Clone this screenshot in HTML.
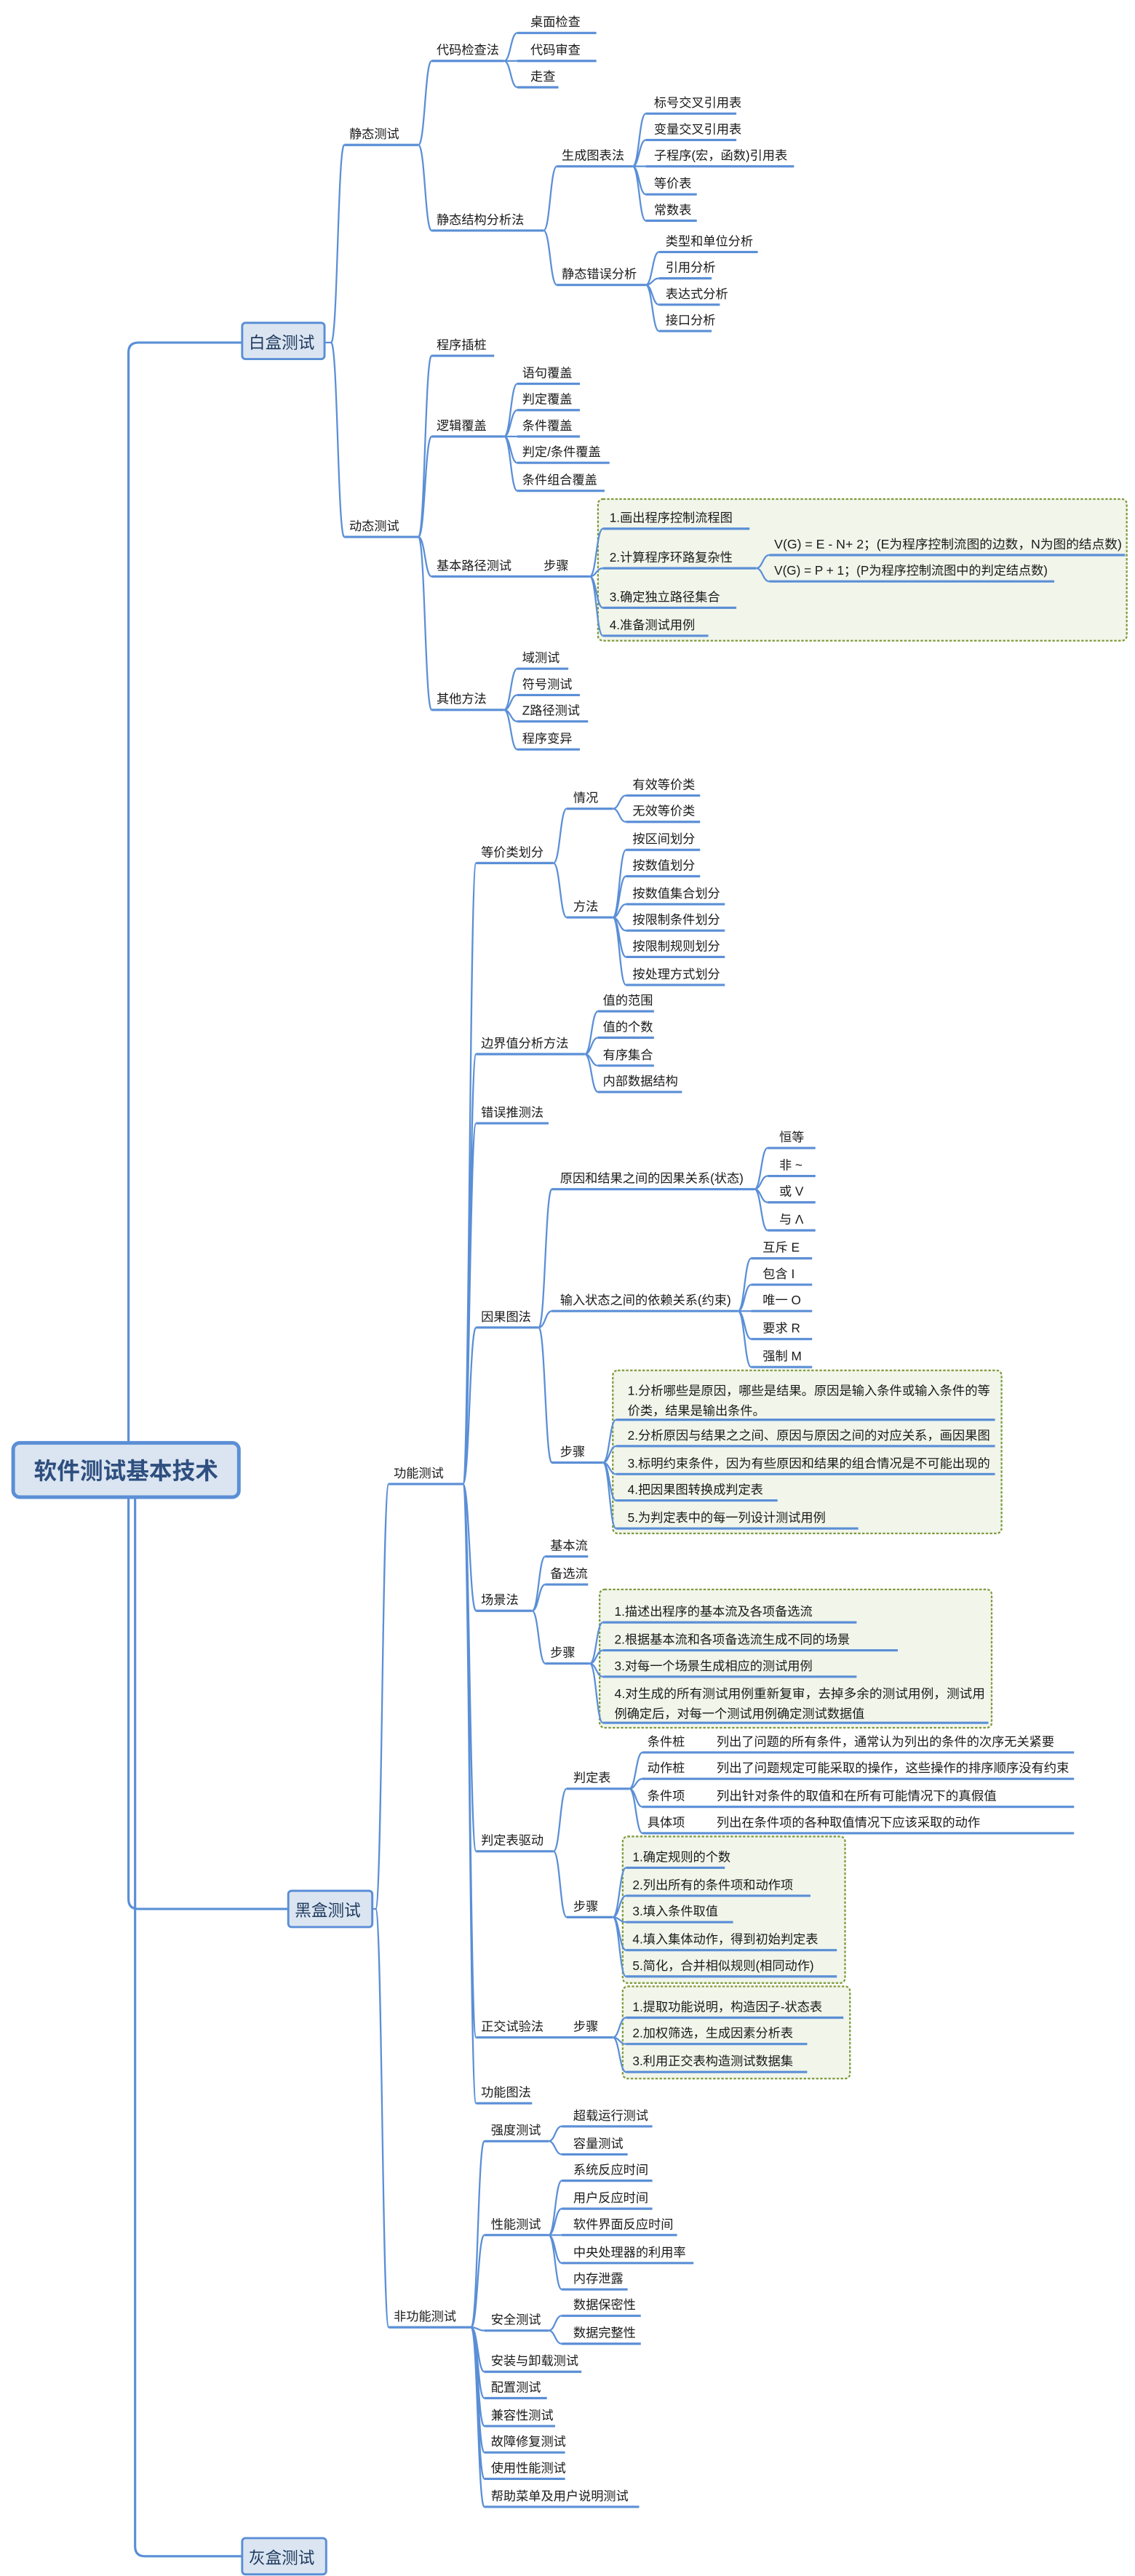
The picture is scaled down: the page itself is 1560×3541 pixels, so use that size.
<!DOCTYPE html>
<html><head><meta charset="utf-8"><style>
html,body{margin:0;padding:0;background:#fff;}
svg{display:block;}
text{font-family:"Liberation Sans","Noto Sans CJK SC",sans-serif;font-size:7.6px;fill:#1a1a1a;}
.u,.c{stroke:#5b8fd6;stroke-width:1.4;fill:none;}
.c{stroke-width:1;}
.g{fill:#f1f5ea;stroke:#7f9a3c;stroke-width:1;stroke-dasharray:1.5 1;}
.bx{fill:#dbe5f1;stroke:#5b8fd6;stroke-width:1.3;}
.t{font-size:10px;fill:#1f3a5f;}
</style></head><body>
<svg width="1560" height="3541" viewBox="0 0 689 1564" preserveAspectRatio="none" xmlns="http://www.w3.org/2000/svg">
<!-- root connectors -->
<path class="u" d="M78 876 V214 Q78 208 84 208 H147"/>
<path class="u" d="M78 909 V1153 Q78 1159 84 1159 H175"/>
<path class="u" d="M82 909 V1546 Q82 1552 88 1552 H147"/>
<rect x="8" y="876" width="137" height="33" rx="4" fill="#dbe5f1" stroke="#5b8fd6" stroke-width="2.2"/>
<text x="76.5" y="898" text-anchor="middle" style="font-size:14px;font-weight:bold;fill:#2e4f7f">软件测试基本技术</text>
<rect class="bx" x="147" y="196" width="50" height="22" rx="2"/><text class="t" x="151" y="211.5">白盒测试</text>
<rect class="bx" x="175" y="1148" width="51" height="22" rx="2"/><text class="t" x="179" y="1163.5">黑盒测试</text>
<rect class="bx" x="147" y="1541" width="51" height="22" rx="2"/><text class="t" x="151" y="1556.5">灰盒测试</text>

<!-- green boxes -->
<rect class="g" x="363" y="303" width="321" height="86" rx="3"/>
<rect class="g" x="372" y="832" width="236" height="99" rx="3"/>
<rect class="g" x="364" y="965" width="238" height="84" rx="3"/>
<rect class="g" x="378" y="1115" width="135" height="89" rx="3"/>
<rect class="g" x="378" y="1206" width="138" height="56" rx="3"/>

<g class="c">
<!-- white box -->
<path d="M197 208 H201 C205 208 205 88 209 88 M201 208 C205 208 205 326 209 326"/>
<path d="M254 88 C258 88 258 37 262 37 M254 88 C258 88 258 140 262 140"/>
<path d="M306 37 C310 37 310 20 314 20 M306 37 H314 M306 37 C310 37 310 53 314 53"/>
<path d="M330 140 C334 140 334 101 338 101 M330 140 C334 140 334 173 338 173"/>
<path d="M384 101 C388 101 388 69 392 69 M384 101 C388 101 388 85 392 85 M384 101 H392 M384 101 C388 101 388 118 392 118 M384 101 C388 101 388 134 392 134"/>
<path d="M392 173 C396 173 396 153 400 153 M392 173 C396 173 396 169 400 169 M392 173 C396 173 396 185 400 185 M392 173 C396 173 396 201 400 201"/>
<path d="M254 326 C258 326 258 216 262 216 M254 326 C258 326 258 265 262 265 M254 326 C258 326 258 350 262 350 M254 326 C258 326 258 431 262 431"/>
<path d="M306 265 C310 265 310 233 314 233 M306 265 C310 265 310 249 314 249 M306 265 H314 M306 265 C310 265 310 281 314 281 M306 265 C310 265 310 298 314 298"/>
<path d="M358 350 C362 350 362 321 366 321 M358 350 C362 350 362 345 366 345 M358 350 C362 350 362 369 366 369 M358 350 C362 350 362 386 366 386"/>
<path d="M459 345 C463 345 463 337 467 337 M459 345 C463 345 463 353 467 353"/>
<path d="M306 431 C310 431 310 406 314 406 M306 431 C310 431 310 422 314 422 M306 431 C310 431 310 438 314 438 M306 431 C310 431 310 455 314 455"/>
<!-- black box -->
<path d="M226 1159 H228 C232 1159 232 901 236 901 M228 1159 C232 1159 232 1413 236 1413"/>
<path d="M281 901 C285 901 285 524 289 524 M281 901 C285 901 285 640 289 640 M281 901 C285 901 285 682 289 682 M281 901 C285 901 285 806 289 806 M281 901 C285 901 285 978 289 978 M281 901 C285 901 285 1124 289 1124 M281 901 C285 901 285 1237 289 1237 M281 901 C285 901 285 1277 289 1277"/>
<path d="M336 524 C340 524 340 491 344 491 M336 524 C340 524 340 557 344 557"/>
<path d="M372 491 C376 491 376 483 380 483 M372 491 C376 491 376 499 380 499"/>
<path d="M372 557 C376 557 376 516 380 516 M372 557 C376 557 376 532 380 532 M372 557 C376 557 376 549 380 549 M372 557 C376 557 376 565 380 565 M372 557 C376 557 376 581 380 581 M372 557 C376 557 376 598 380 598"/>
<path d="M355 640 C359 640 359 614 363 614 M355 640 C359 640 359 630 363 630 M355 640 C359 640 359 647 363 647 M355 640 C359 640 359 663 363 663"/>
<path d="M327 806 C331 806 331 722 335 722 M327 806 C331 806 331 796 335 796 M327 806 C331 806 331 888 335 888"/>
<path d="M458 722 C462 722 462 697 466 697 M458 722 C462 722 462 714 466 714 M458 722 C462 722 462 730 466 730 M458 722 C462 722 462 747 466 747"/>
<path d="M448 796 C452 796 452 764 456 764 M448 796 C452 796 452 780 456 780 M448 796 H456 M448 796 C452 796 452 813 456 813 M448 796 C452 796 452 830 456 830"/>
<path d="M366 888 C370 888 370 862 374 862 M366 888 C370 888 370 878 374 878 M366 888 C370 888 370 895 374 895 M366 888 C370 888 370 911 374 911 M366 888 C370 888 370 928 374 928"/>
<path d="M323 978 C327 978 327 945 331 945 M323 978 C327 978 327 962 331 962 M323 978 C327 978 327 1010 331 1010"/>
<path d="M358 1010 C362 1010 362 985 366 985 M358 1010 C362 1010 362 1002 366 1002 M358 1010 C362 1010 362 1018 366 1018 M358 1010 C362 1010 362 1046 366 1046"/>
<path d="M336 1124 C340 1124 340 1086 344 1086 M336 1124 C340 1124 340 1164 344 1164"/>
<path d="M382 1086 C386 1086 386 1064 390 1064 M382 1086 C386 1086 386 1080 390 1080 M382 1086 C386 1086 386 1097 390 1097 M382 1086 C386 1086 386 1113 390 1113"/>
<path d="M372 1164 C376 1164 376 1134 380 1134 M372 1164 C376 1164 376 1151 380 1151 M372 1164 C376 1164 376 1167 380 1167 M372 1164 C376 1164 376 1184 380 1184 M372 1164 C376 1164 376 1200 380 1200"/>
<path d="M372 1237 C376 1237 376 1225 380 1225 M372 1237 C376 1237 376 1241 380 1241 M372 1237 C376 1237 376 1258 380 1258"/>
<path d="M286 1413 C290 1413 290 1300 294 1300 M286 1413 C290 1413 290 1357 294 1357 M286 1413 C290 1413 290 1415 294 1415 M286 1413 C290 1413 290 1440 294 1440 M286 1413 C290 1413 290 1456 294 1456 M286 1413 C290 1413 290 1473 294 1473 M286 1413 C290 1413 290 1489 294 1489 M286 1413 C290 1413 290 1505 294 1505 M286 1413 C290 1413 290 1522 294 1522"/>
<path d="M333 1300 C337 1300 337 1291 341 1291 M333 1300 C337 1300 337 1308 341 1308"/>
<path d="M333 1357 C337 1357 337 1324 341 1324 M333 1357 C337 1357 337 1341 341 1341 M333 1357 H341 M333 1357 C337 1357 337 1374 341 1374 M333 1357 C337 1357 337 1390 341 1390"/>
<path d="M333 1415 C337 1415 337 1406 341 1406 M333 1415 C337 1415 337 1423 341 1423"/>
</g>

<!-- underlines -->
<path class="u" d="
M209 88H254 M262 37H306 M314 20H362 M314 37H362 M314 53H339
M262 140H330 M338 101H384 M392 69H447 M392 85H447 M392 101H482 M392 118H423 M392 134H423
M338 173H392 M400 153H460 M400 169H432 M400 185H437 M400 201H432
M209 326H254 M262 216H300 M262 265H306 M314 233H352 M314 249H352 M314 265H352 M314 281H370 M314 298H367
M262 350H358 M366 321H455 M366 345H459 M467 337H683 M467 353H640 M366 369H447 M366 386H430
M262 431H306 M314 406H345 M314 422H352 M314 438H357 M314 455H352
M236 901H281 M289 524H336 M344 491H372 M380 483H425 M380 499H425
M344 557H372 M380 516H425 M380 532H425 M380 549H440 M380 565H440 M380 581H440 M380 598H440
M289 640H355 M363 614H397 M363 630H397 M363 647H397 M363 663H414
M289 682H333 M289 806H327 M335 722H458 M466 697H495 M466 714H495 M466 730H495 M466 747H495
M335 796H448 M456 764H493 M456 780H493 M456 796H493 M456 813H493 M456 830H493
M335 888H366 M374 862H604 M374 878H604 M374 895H604 M374 911H472 M374 928H521
M289 978H323 M331 945H357 M331 962H357 M331 1010H358 M366 985H520 M366 1002H545 M366 1018H520 M366 1046H600
M289 1124H336 M344 1086H382 M390 1064H652 M390 1080H652 M390 1097H652 M390 1113H652
M344 1164H372 M380 1134H440 M380 1151H492 M380 1167H445 M380 1184H508 M380 1200H508
M289 1237H372 M380 1225H512 M380 1241H490 M380 1258H490 M289 1277H323
M236 1413H286 M294 1300H333 M341 1291H396 M341 1308H381
M294 1357H333 M341 1324H396 M341 1341H396 M341 1357H411 M341 1374H421 M341 1390H381
M294 1415H333 M341 1406H389 M341 1423H389
M294 1440H353 M294 1456H332 M294 1473H337 M294 1489H343 M294 1505H343 M294 1522H388"/>

<!-- labels -->
<g>
<text x="212" y="84">静态测试</text>
<text x="265" y="33">代码检查法</text>
<text x="322" y="16">桌面检查</text><text x="322" y="33">代码审查</text><text x="322" y="49">走查</text>
<text x="265" y="136">静态结构分析法</text>
<text x="341" y="97">生成图表法</text>
<text x="397" y="65">标号交叉引用表</text><text x="397" y="81">变量交叉引用表</text><text x="397" y="97">子程序(宏，函数)引用表</text><text x="397" y="114">等价表</text><text x="397" y="130">常数表</text>
<text x="341" y="169">静态错误分析</text>
<text x="404" y="149">类型和单位分析</text><text x="404" y="165">引用分析</text><text x="404" y="181">表达式分析</text><text x="404" y="197">接口分析</text>
<text x="212" y="322">动态测试</text>
<text x="265" y="212">程序插桩</text>
<text x="265" y="261">逻辑覆盖</text>
<text x="317" y="229">语句覆盖</text><text x="317" y="245">判定覆盖</text><text x="317" y="261">条件覆盖</text><text x="317" y="277">判定/条件覆盖</text><text x="317" y="294">条件组合覆盖</text>
<text x="265" y="346">基本路径测试</text><text x="330" y="346">步骤</text>
<text x="370" y="317">1.画出程序控制流程图</text>
<text x="370" y="341">2.计算程序环路复杂性</text>
<text x="470" y="333" textLength="211" lengthAdjust="spacingAndGlyphs">V(G) = E - N+ 2；(E为程序控制流图的边数，N为图的结点数)</text>
<text x="470" y="349" textLength="166" lengthAdjust="spacingAndGlyphs">V(G) = P + 1；(P为程序控制流图中的判定结点数)</text>
<text x="370" y="365">3.确定独立路径集合</text>
<text x="370" y="382">4.准备测试用例</text>
<text x="265" y="427">其他方法</text>
<text x="317" y="402">域测试</text><text x="317" y="418">符号测试</text><text x="317" y="434">Z路径测试</text><text x="317" y="451">程序变异</text>

<text x="239" y="897">功能测试</text>
<text x="292" y="520">等价类划分</text>
<text x="348" y="487">情况</text>
<text x="384" y="479">有效等价类</text><text x="384" y="495">无效等价类</text>
<text x="348" y="553">方法</text>
<text x="384" y="512">按区间划分</text><text x="384" y="528">按数值划分</text><text x="384" y="545">按数值集合划分</text><text x="384" y="561">按限制条件划分</text><text x="384" y="577">按限制规则划分</text><text x="384" y="594">按处理方式划分</text>
<text x="292" y="636">边界值分析方法</text>
<text x="366" y="610">值的范围</text><text x="366" y="626">值的个数</text><text x="366" y="643">有序集合</text><text x="366" y="659">内部数据结构</text>
<text x="292" y="678">错误推测法</text>
<text x="292" y="802">因果图法</text>
<text x="340" y="718">原因和结果之间的因果关系(状态)</text>
<text x="473" y="693">恒等</text><text x="473" y="710">非 ~</text><text x="473" y="726">或 V</text><text x="473" y="743">与 Λ</text>
<text x="340" y="792">输入状态之间的依赖关系(约束)</text>
<text x="463" y="760">互斥 E</text><text x="463" y="776">包含 I</text><text x="463" y="792">唯一 O</text><text x="463" y="809">要求 R</text><text x="463" y="826">强制 M</text>
<text x="340" y="884">步骤</text>
<text x="381" y="847" textLength="220" lengthAdjust="spacingAndGlyphs">1.分析哪些是原因，哪些是结果。原因是输入条件或输入条件的等</text>
<text x="381" y="859">价类，结果是输出条件。</text>
<text x="381" y="874" textLength="220" lengthAdjust="spacingAndGlyphs">2.分析原因与结果之之间、原因与原因之间的对应关系，画因果图</text>
<text x="381" y="891" textLength="220" lengthAdjust="spacingAndGlyphs">3.标明约束条件，因为有些原因和结果的组合情况是不可能出现的</text>
<text x="381" y="907">4.把因果图转换成判定表</text>
<text x="381" y="924">5.为判定表中的每一列设计测试用例</text>
<text x="292" y="974">场景法</text>
<text x="334" y="941">基本流</text><text x="334" y="958">备选流</text><text x="334" y="1006">步骤</text>
<text x="373" y="981">1.描述出程序的基本流及各项备选流</text>
<text x="373" y="998">2.根据基本流和各项备选流生成不同的场景</text>
<text x="373" y="1014">3.对每一个场景生成相应的测试用例</text>
<text x="373" y="1031" textLength="225" lengthAdjust="spacingAndGlyphs">4.对生成的所有测试用例重新复审，去掉多余的测试用例，测试用</text>
<text x="373" y="1043">例确定后，对每一个测试用例确定测试数据值</text>
<text x="292" y="1120">判定表驱动</text>
<text x="348" y="1082">判定表</text>
<text x="393" y="1060">条件桩</text><text x="435" y="1060" textLength="205" lengthAdjust="spacingAndGlyphs">列出了问题的所有条件，通常认为列出的条件的次序无关紧要</text>
<text x="393" y="1076">动作桩</text><text x="435" y="1076" textLength="214" lengthAdjust="spacingAndGlyphs">列出了问题规定可能采取的操作，这些操作的排序顺序没有约束</text>
<text x="393" y="1093">条件项</text><text x="435" y="1093" textLength="170" lengthAdjust="spacingAndGlyphs">列出针对条件的取值和在所有可能情况下的真假值</text>
<text x="393" y="1109">具体项</text><text x="435" y="1109" textLength="160" lengthAdjust="spacingAndGlyphs">列出在条件项的各种取值情况下应该采取的动作</text>
<text x="348" y="1160">步骤</text>
<text x="384" y="1130">1.确定规则的个数</text>
<text x="384" y="1147">2.列出所有的条件项和动作项</text>
<text x="384" y="1163">3.填入条件取值</text>
<text x="384" y="1180">4.填入集体动作，得到初始判定表</text>
<text x="384" y="1196">5.简化，合并相似规则(相同动作)</text>
<text x="292" y="1233">正交试验法</text><text x="348" y="1233">步骤</text>
<text x="384" y="1221">1.提取功能说明，构造因子-状态表</text>
<text x="384" y="1237">2.加权筛选，生成因素分析表</text>
<text x="384" y="1254">3.利用正交表构造测试数据集</text>
<text x="292" y="1273">功能图法</text>
<text x="239" y="1409">非功能测试</text>
<text x="298" y="1296">强度测试</text>
<text x="348" y="1287">超载运行测试</text><text x="348" y="1304">容量测试</text>
<text x="298" y="1353">性能测试</text>
<text x="348" y="1320">系统反应时间</text><text x="348" y="1337">用户反应时间</text><text x="348" y="1353">软件界面反应时间</text><text x="348" y="1370">中央处理器的利用率</text><text x="348" y="1386">内存泄露</text>
<text x="298" y="1411">安全测试</text>
<text x="348" y="1402">数据保密性</text><text x="348" y="1419">数据完整性</text>
<text x="298" y="1436">安装与卸载测试</text><text x="298" y="1452">配置测试</text><text x="298" y="1469">兼容性测试</text><text x="298" y="1485">故障修复测试</text><text x="298" y="1501">使用性能测试</text><text x="298" y="1518">帮助菜单及用户说明测试</text>
</g>
</svg>
</body></html>
